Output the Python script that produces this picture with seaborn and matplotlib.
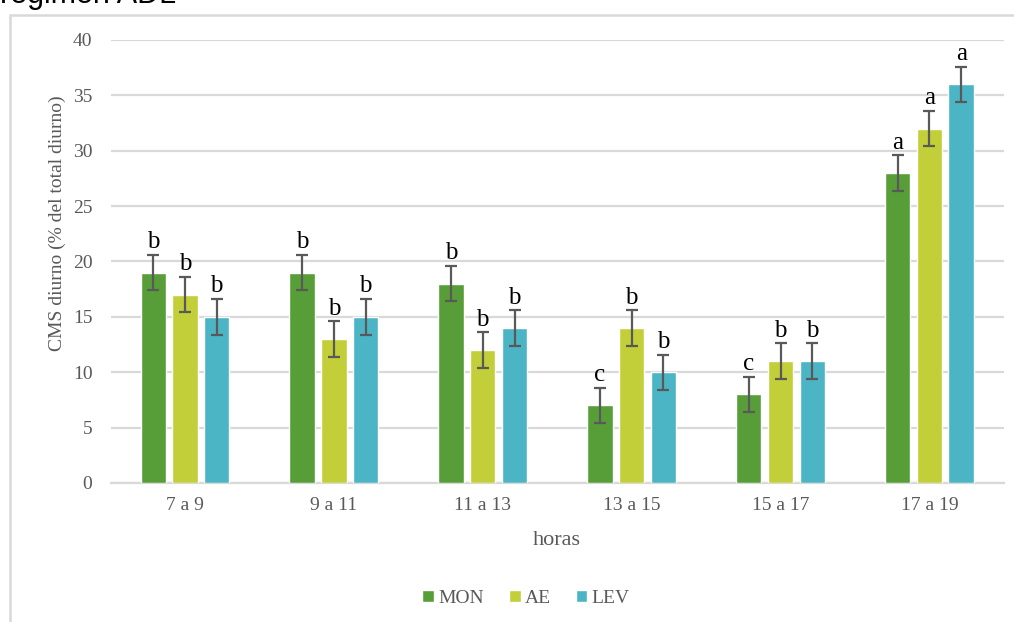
import matplotlib
matplotlib.use("Agg")
import matplotlib.pyplot as plt
import seaborn as sns
import numpy as np
import pandas as pd
from matplotlib.patches import Rectangle

# ==================== Data ====================
horas = ['7 a 9', '9 a 11', '11 a 13', '13 a 15', '15 a 17', '17 a 19']
grupos = ['MON', 'AE', 'LEV']

mon = [19, 19, 18, 7, 8, 28]
ae = [17, 13, 12, 14, 11, 32]
lev = [15, 15, 14, 10, 11, 36]

err_mon = [1.6, 1.6, 1.6, 1.6, 1.6, 1.6]
err_ae = [1.6, 1.6, 1.6, 1.6, 1.6, 1.6]
err_lev = [1.6, 1.6, 1.6, 1.6, 1.6, 1.6]

letras_mon = ['b', 'b', 'b', 'c', 'c', 'a']
letras_ae = ['b', 'b', 'b', 'b', 'b', 'a']
letras_lev = ['b', 'b', 'b', 'b', 'b', 'a']

COLORS = {'MON': '#579E38', 'AE': '#C3CF38', 'LEV': '#4BB5C5'}
GRID = '#D9D9D9'
TEXT = '#595959'

df = pd.DataFrame({
    'horas': horas * 3,
    'grupo': [g for g in grupos for _ in horas],
    'valor': mon + ae + lev,
    'err': err_mon + err_ae + err_lev,
    'letra': letras_mon + letras_ae + letras_lev,
})

# ==================== Style ====================
sns.set_theme(style='white')
plt.rcParams['font.family'] = ['Liberation Serif', 'DejaVu Serif']

fig = plt.figure(figsize=(10.14, 6.22), dpi=100)
ax = fig.add_axes([0.109, 0.2235, 0.881, 0.7122])

sns.barplot(data=df, x='horas', y='valor', hue='grupo', order=horas,
            hue_order=grupos, palette=COLORS, width=0.64, gap=0.2,
            saturation=1, errorbar=None, ax=ax, zorder=3, legend=True)

# error bars + significance letters
for cont, g in zip(ax.containers, grupos):
    sub = df[df['grupo'] == g].set_index('horas').loc[horas]
    xs = [p.get_x() + p.get_width() / 2 for p in cont.patches]
    ax.errorbar(xs, sub['valor'], yerr=sub['err'], fmt='none',
                ecolor='#595959', elinewidth=1.6, capsize=4, capthick=1.6,
                zorder=4)
    for x, v, e, l in zip(xs, sub['valor'], sub['err'], sub['letra']):
        ax.text(x, v + e + 0.15, l, ha='center', va='bottom',
                fontsize=18, color='black')

ax.set_xlim(-0.5, len(horas) - 0.5)
ax.set_ylim(0, 40)
ax.set_yticks(range(0, 41, 5))
ax.yaxis.grid(True, color=GRID, linewidth=1.6, zorder=0)
ax.xaxis.grid(False)
for s in ['top', 'right', 'left']:
    ax.spines[s].set_visible(False)
ax.spines['bottom'].set_color(GRID)
ax.spines['bottom'].set_linewidth(1.6)
ax.tick_params(axis='both', length=0, labelsize=14, labelcolor=TEXT)
ax.tick_params(axis='y', pad=13)
ax.tick_params(axis='x', pad=10)

ax.set_xlabel('horas', fontsize=16, color=TEXT, labelpad=12)
ax.set_ylabel('CMS diurno (% del total diurno)', fontsize=14, color=TEXT)
ax.yaxis.set_label_coords(-0.05, 0.587)

leg = ax.legend(loc='center', bbox_to_anchor=(0.465, -0.26), ncol=3,
                frameon=False, fontsize=14, handlelength=0.6,
                handleheight=0.6, handletextpad=0.2, columnspacing=1.3)
for t in leg.get_texts():
    t.set_color(TEXT)

# chart frame
fig.patches.append(Rectangle((10 / 1014, -0.1), 1.2, 1 - 15 / 622 + 0.1,
                             transform=fig.transFigure, fill=False,
                             edgecolor=GRID, linewidth=1.8))

# caption from the page above (cut off)
fig.text(0.0, 1 - 3 / 622, 'régimen ADL', fontsize=22, color='black',
         va='baseline', ha='left', family=['Liberation Sans', 'DejaVu Sans'])

fig.savefig('out.png', dpi=100)
